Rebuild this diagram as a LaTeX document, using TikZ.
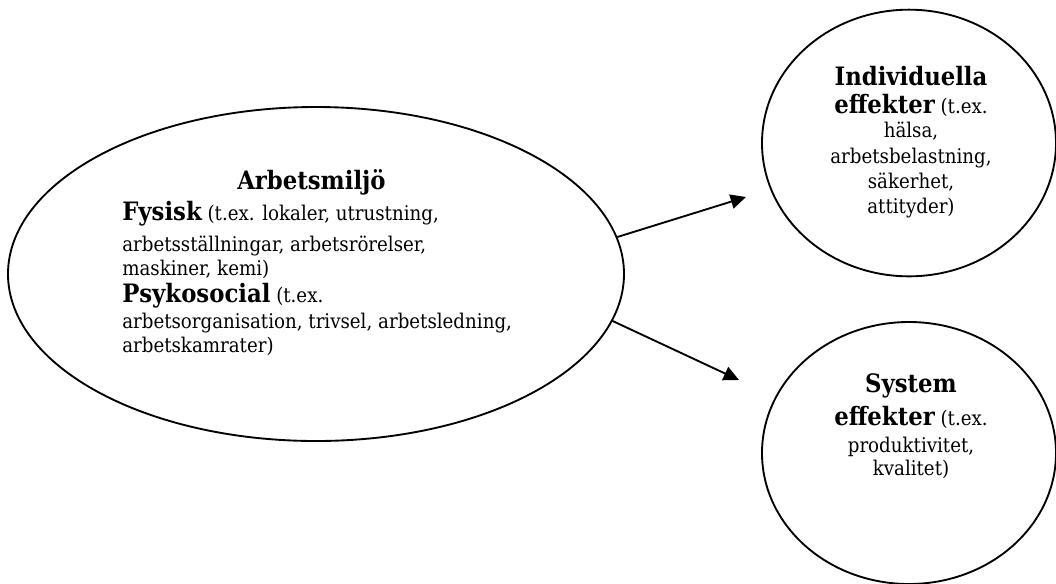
\documentclass[tikz,border=0pt]{standalone}
\usepackage{fontspec}
\setmainfont{DejaVu Serif}
\newfontfamily\condf{DejaVu Serif Condensed}
\usetikzlibrary{shapes.geometric,arrows.meta}
\newcommand\bigb[1]{{\condf\bfseries\fontsize{19}{18}\selectfont #1}}
\begin{document}
\begin{tikzpicture}[x=0.75pt,y=-0.75pt,
  shapeline/.style={draw=black, line width=1.4pt, shape=ellipse, inner sep=0pt},
  txt/.style={inner sep=0pt, font=\condf\fontsize{15.2}{18}\selectfont},
  arr/.style={line width=1.4pt, -{Triangle[length=11.5pt,width=10.8pt]}}]
\useasboundingbox (0,0) rectangle (1056,583);
\clip (0,0) rectangle (1056,583);
\node[shapeline, minimum width=462pt, minimum height=250.5pt] (big) at (316,274) {};
\node[shapeline, minimum width=220.5pt, minimum height=200pt] (ind) at (909,143) {};
\node[shapeline, minimum width=220.5pt, minimum height=196.5pt] (sys) at (909,453) {};
\node[txt, anchor=base west, align=left] (bigtext) at (122,352) {%
\hspace*{86.25pt}\bigb{Arbetsmiljö}\\[3pt]
\bigb{Fysisk} (t.ex. lokaler, utrustning,\\[5.25pt]
arbetsställningar, arbetsrörelser,\\
maskiner, kemi)\\[2.25pt]
\bigb{Psykosocial} (t.ex.\\[1.5pt]
arbetsorganisation, trivsel, arbetsledning,\\
arbetskamrater)};
\node[txt, anchor=base, align=center, font=\condf\fontsize{15.2}{18.75}\selectfont] (indtext) at (911,213) {%
\bigb{Individuella}\\[2.25pt]
\bigb{effekter} (t.ex.\\[-0.75pt]
hälsa,\\[0.75pt]
arbetsbelastning,\\
säkerhet,\\
attityder)};
\node[txt, anchor=base, align=center] (systext) at (911,475) {%
\bigb{System}\\[4.5pt]
\bigb{effekter} (t.ex.\\[2.25pt]
produktivitet,\\[-0.75pt]
kvalitet)};
\coordinate (t1) at (746,197);
\coordinate (t2) at (739,380);
\draw[arr] (big.7.2) -- (t1);
\draw[arr] (big.-9.2) -- (t2);
\end{tikzpicture}
\end{document}
